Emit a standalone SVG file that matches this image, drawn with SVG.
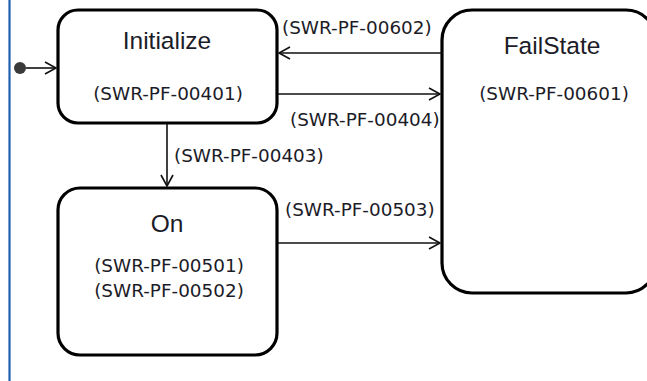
<svg xmlns="http://www.w3.org/2000/svg" width="647" height="381" viewBox="0 0 647 381">
<defs>
<marker id="arr" markerWidth="14" markerHeight="14" refX="12" refY="7" orient="auto" markerUnits="userSpaceOnUse">
<path d="M1,1 L12,7 L1,13" fill="none" stroke="#111" stroke-width="1.6"/>
</marker>
<style>
.st{fill:#fff;stroke:#000;stroke-width:3.2}
.t{fill:#1c1c28}
.title{font-family:"Liberation Sans",Arial,sans-serif;font-size:24.5px}
.req{font-family:"DejaVu Sans",Verdana,sans-serif;font-size:18.4px}
.c{stroke:#111;stroke-width:1.6;fill:none}
</style>
</defs>
<rect width="647" height="381" fill="#fff"/>
<line x1="9.5" y1="0" x2="9.5" y2="381" stroke="#1f5fae" stroke-width="2.2"/>
<g id="initial">
<circle cx="20" cy="68" r="6" fill="#3a3a3a"/>
</g>
<g id="Initialize">
<rect class="st" x="58" y="10" width="219" height="113" rx="20"/>
<text class="t title" x="167" y="49" text-anchor="middle">Initialize</text>
<text class="t req" x="168" y="100" text-anchor="middle">(SWR-PF-00401)</text>
</g>
<g id="On">
<rect class="st" x="58" y="188" width="219" height="167" rx="22"/>
<text class="t title" x="167" y="232" text-anchor="middle">On</text>
<text class="t req" x="169" y="272" text-anchor="middle">(SWR-PF-00501)</text>
<text class="t req" x="169" y="297" text-anchor="middle">(SWR-PF-00502)</text>
</g>
<g id="FailState">
<rect class="st" x="442" y="10" width="214" height="283" rx="30"/>
<text class="t title" x="552" y="54" text-anchor="middle">FailState</text>
<text class="t req" x="554" y="100" text-anchor="middle">(SWR-PF-00601)</text>
</g>
<g id="connectors">
<line class="c" x1="26" y1="68" x2="56" y2="68" marker-end="url(#arr)"/>
<line class="c" x1="167" y1="124" x2="167" y2="186" marker-end="url(#arr)"/>
<line class="c" x1="441" y1="53" x2="279" y2="53" marker-end="url(#arr)"/>
<line class="c" x1="278" y1="94" x2="440" y2="94" marker-end="url(#arr)"/>
<line class="c" x1="278" y1="243" x2="440" y2="243" marker-end="url(#arr)"/>
<text class="t req" x="174" y="162">(SWR-PF-00403)</text>
<text class="t req" x="282" y="34">(SWR-PF-00602)</text>
<text class="t req" x="290" y="126">(SWR-PF-00404)</text>
<text class="t req" x="285" y="216">(SWR-PF-00503)</text>
</g>
</svg>
